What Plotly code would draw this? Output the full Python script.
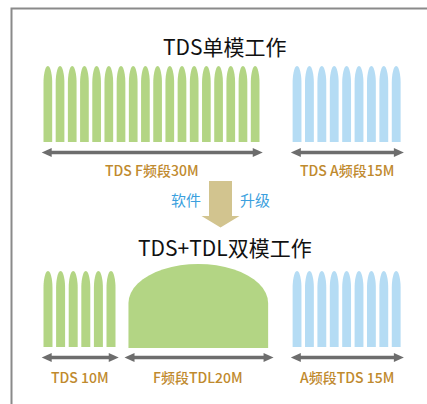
import numpy as np
import plotly.graph_objects as go

# ---------------- data ----------------
titles = ["TDS单模工作", "TDS+TDL双模工作"]
upgrade_words = ["软件", "升级"]

# single-mode (top) row: bands on a schematic MHz axis
top_labels = ["TDS F频段30M", "TDS A频段15M"]
top_band = ["F", "A"]
top_start_mhz = [0.0, 34.6]
top_width_mhz = [30, 15]
top_carriers = [18, 9]

# dual-mode (bottom) row
bot_labels = ["TDS 10M", "F频段TDL20M", "A频段TDS 15M"]
bot_band = ["F", "F", "A"]
bot_system = ["TDS", "TDL", "TDS"]
bot_start_mhz = [0.0, 11.5, 34.6]
bot_width_mhz = [10, 20, 15]
bot_carriers = [6, 1, 9]

# ---------------- styles ----------------
W, H = 427, 404
PX_PER_UNIT = 7.2
X0_PX = 43.5
GREEN = "#b3d584"
BLUE = "#b5dcf4"
ARROW_GRAY = "#6d6d6d"
LABEL_GOLD = "#bf8a2e"
TAN = "#d2c48f"
TEXT_BLUE = "#3b9fde"
FONT = "Noto Sans CJK SC"
band_color = {"F": GREEN, "A": BLUE}

fig = go.Figure()
shapes = []
annotations = []


def u(px):
    return px / PX_PER_UNIT


def carrier_path(cx, hw, y_top, y_bot, arch_h):
    base = y_top + arch_h
    pts = [(cx - hw, y_bot), (cx - hw, base)]
    for t in np.linspace(np.pi, 0, 25):
        pts.append((cx + hw * np.cos(t), base - arch_h * np.sin(t)))
    pts.append((cx + hw, y_bot))
    return "M " + " L ".join(f"{x:.4f},{y:.3f}" for x, y in pts) + " Z"


def draw_carriers(start, width, n, color, y_top, y_bot, arch_h):
    r = 0.713
    pitch = width / (n - 1 + r)
    bw = r * pitch
    for i in range(n):
        cx = start + bw / 2 + i * pitch
        shapes.append(dict(type="path", xref="x", yref="y",
                           path=carrier_path(cx, bw / 2, y_top, y_bot, arch_h),
                           fillcolor=color, line=dict(width=0), layer="below"))


def draw_dome(start, width, color, y_top, y_bot, arch_h):
    inset = 0.3
    cx = start + width / 2
    hw = width / 2 - inset
    shapes.append(dict(type="path", xref="x", yref="y",
                       path=carrier_path(cx, hw, y_top, y_bot, arch_h),
                       fillcolor=color, line=dict(width=0), layer="below"))


def draw_double_arrow(start, width, y):
    x0 = start - 0.25
    x1 = start + width + 0.45
    L = u(10)
    h = 4.6
    shapes.append(dict(type="line", xref="x", yref="y", x0=x0 + L * 0.6, x1=x1 - L * 0.6,
                       y0=y, y1=y, line=dict(color=ARROW_GRAY, width=3.6)))
    shapes.append(dict(type="path", xref="x", yref="y",
                       path=f"M {x0},{y} L {x0 + L},{y - h} L {x0 + L},{y + h} Z",
                       fillcolor=ARROW_GRAY, line=dict(width=0)))
    shapes.append(dict(type="path", xref="x", yref="y",
                       path=f"M {x1},{y} L {x1 - L},{y - h} L {x1 - L},{y + h} Z",
                       fillcolor=ARROW_GRAY, line=dict(width=0)))


def label(text, x, y, size, color, xref="x", weight="normal"):
    annotations.append(dict(text=text, x=x, y=y, xref=xref, yref="y",
                            showarrow=False, xanchor="center", yanchor="middle",
                            font=dict(family=FONT, size=size, color=color, weight=weight)))


# top row
for lab, band, s, w, n in zip(top_labels, top_band, top_start_mhz, top_width_mhz, top_carriers):
    draw_carriers(s, w, n, band_color[band], 66, 142, 17)
    draw_double_arrow(s, w, 152.5)
    label(lab, s + w / 2, 170, 14, LABEL_GOLD, weight=500)

# bottom row
for lab, band, sysname, s, w, n in zip(bot_labels, bot_band, bot_system, bot_start_mhz, bot_width_mhz, bot_carriers):
    if sysname == "TDL":
        draw_dome(s, w, band_color[band], 264, 348, 39)
    else:
        draw_carriers(s, w, n, band_color[band], 271, 347, 17)
    draw_double_arrow(s, w, 357.5)
    label(lab, s + w / 2, 377, 14, LABEL_GOLD, weight=500)

# frame
shapes.append(dict(type="rect", xref="paper", yref="y", x0=11.5 / W, x1=1.2, y0=8.5, y1=440,
                   line=dict(color="#8a8a8a", width=2), fillcolor="rgba(0,0,0,0)"))

# downward upgrade arrow
pxs = lambda p: p / W
shapes.append(dict(type="path", xref="paper", yref="y",
                   path=(f"M {pxs(209)},181 L {pxs(232)},181 L {pxs(232)},216 L {pxs(239.5)},216 "
                         f"L {pxs(220.5)},227.5 L {pxs(201.5)},216 L {pxs(209)},216 Z"),
                   fillcolor=TAN, line=dict(width=0)))

# titles and upgrade words
label(titles[0], pxs(224.5), 45.5, 21, "#111111", xref="paper")
label(titles[1], pxs(225), 246.5, 21, "#111111", xref="paper")
label(upgrade_words[0], pxs(186), 199.5, 15, TEXT_BLUE, xref="paper")
label(upgrade_words[1], pxs(255), 199.5, 15, TEXT_BLUE, xref="paper")

fig.update_layout(
    width=W, height=H, margin=dict(l=0, r=0, t=0, b=0),
    paper_bgcolor="white", plot_bgcolor="white",
    xaxis=dict(range=[-u(X0_PX), u(W - X0_PX)], visible=False, fixedrange=True),
    yaxis=dict(range=[H, 0], visible=False, fixedrange=True),
    shapes=shapes, annotations=annotations, showlegend=False,
)
fig.add_trace(go.Scatter(x=[None], y=[None], showlegend=False, hoverinfo="skip"))

fig.write_html("out.html", config={"displayModeBar": False},
               post_script="document.body.style.margin='0';document.body.style.overflow='hidden';")
